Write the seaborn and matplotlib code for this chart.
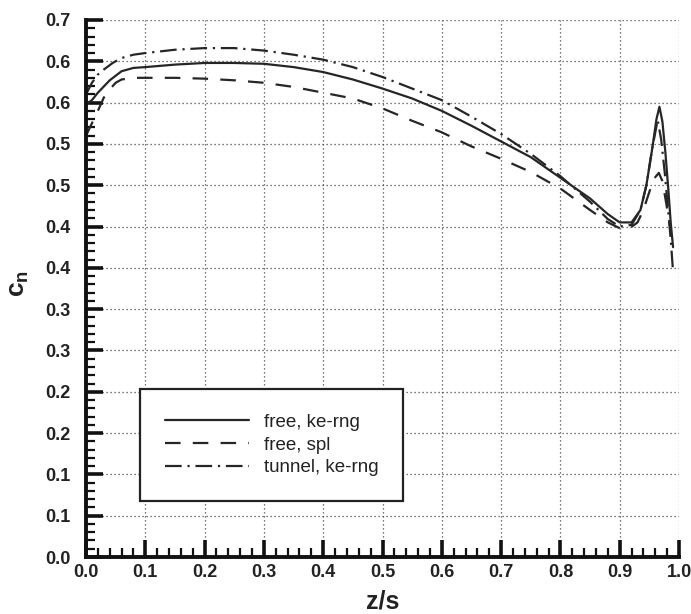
import matplotlib
matplotlib.use("Agg")
import matplotlib.pyplot as plt
import seaborn as sns
import pandas as pd
from matplotlib.ticker import MultipleLocator, FixedLocator, FixedFormatter

# Normal-force coefficient along the span
z_free = [0.0, 0.01, 0.02, 0.04, 0.06, 0.08, 0.10, 0.15, 0.20, 0.25, 0.30, 0.35,
          0.40, 0.45, 0.50, 0.55, 0.60, 0.65, 0.70, 0.75, 0.80, 0.85, 0.88, 0.90,
          0.92, 0.935, 0.945, 0.955, 0.962, 0.967, 0.972, 0.977, 0.982, 0.986, 0.99]
cn_free = [0.548, 0.553, 0.562, 0.577, 0.588, 0.592, 0.593, 0.596, 0.598, 0.598,
           0.597, 0.593, 0.587, 0.578, 0.567, 0.555, 0.540, 0.522, 0.503, 0.484,
           0.459, 0.434, 0.415, 0.405, 0.405, 0.420, 0.450, 0.495, 0.530, 0.545,
           0.527, 0.490, 0.445, 0.405, 0.375]

z_spl = [0.0, 0.01, 0.02, 0.03, 0.04, 0.05, 0.06, 0.08, 0.10, 0.15, 0.20, 0.25,
         0.30, 0.35, 0.40, 0.45, 0.50, 0.55, 0.60, 0.65, 0.70, 0.75, 0.80, 0.85,
         0.88, 0.90, 0.915, 0.93, 0.94, 0.95, 0.958, 0.966, 0.972, 0.978, 0.985]
cn_spl = [0.510, 0.525, 0.540, 0.556, 0.566, 0.574, 0.578, 0.580, 0.580, 0.580,
          0.579, 0.577, 0.574, 0.569, 0.562, 0.555, 0.543, 0.528, 0.514, 0.497,
          0.482, 0.466, 0.446, 0.420, 0.405, 0.398, 0.397, 0.405, 0.420, 0.442,
          0.458, 0.465, 0.455, 0.430, 0.400]

z_tun = [0.0, 0.01, 0.02, 0.03, 0.045, 0.06, 0.08, 0.10, 0.15, 0.20, 0.25, 0.30,
         0.35, 0.40, 0.45, 0.50, 0.55, 0.60, 0.65, 0.70, 0.75, 0.80, 0.85, 0.88,
         0.90, 0.92, 0.935, 0.945, 0.955, 0.964, 0.970, 0.976, 0.981, 0.986, 0.99]
cn_tun = [0.560, 0.574, 0.584, 0.590, 0.598, 0.604, 0.608, 0.610, 0.614, 0.616,
          0.616, 0.613, 0.608, 0.602, 0.593, 0.581, 0.567, 0.553, 0.533, 0.512,
          0.488, 0.461, 0.430, 0.409, 0.400, 0.402, 0.420, 0.450, 0.495, 0.529,
          0.505, 0.465, 0.425, 0.385, 0.345]

series_names = ["free, ke-rng", "free, spl", "tunnel, ke-rng"]

y_tick_values = [0.0, 0.05, 0.10, 0.15, 0.20, 0.25, 0.30, 0.35, 0.40, 0.45,
                 0.50, 0.55, 0.60, 0.65]
y_tick_labels = ["0.0", "0.1", "0.1", "0.2", "0.2", "0.3", "0.3", "0.4", "0.4",
                 "0.5", "0.5", "0.6", "0.6", "0.7"]
x_tick_values = [0.0, 0.1, 0.2, 0.3, 0.4, 0.5, 0.6, 0.7, 0.8, 0.9, 1.0]
x_tick_labels = ["0.0", "0.1", "0.2", "0.3", "0.4", "0.5", "0.6", "0.7", "0.8",
                 "0.9", "1.0"]

frames = []
for name, zs, cs in zip(series_names, [z_free, z_spl, z_tun], [cn_free, cn_spl, cn_tun]):
    frames.append(pd.DataFrame({"z/s": zs, "cn": cs, "case": name}))
df = pd.concat(frames, ignore_index=True)

sns.set_theme(style="white")
plt.rcParams["font.family"] = ["Liberation Sans", "DejaVu Sans"]
plt.rcParams["mathtext.fontset"] = "custom"
plt.rcParams["mathtext.rm"] = "Liberation Sans:bold"
plt.rcParams["mathtext.bf"] = "Liberation Sans:bold"
plt.rcParams["mathtext.it"] = "Liberation Sans:bold"

fig = plt.figure(figsize=(6.91, 6.14), dpi=100)
ax = fig.add_axes([86 / 691, 1 - 557 / 614, (679 - 86) / 691, (557 - 20) / 614])

ink = "#262626"
sns.lineplot(
    data=df, x="z/s", y="cn", style="case", hue="case",
    palette={n: ink for n in series_names},
    dashes={"free, ke-rng": "", "free, spl": (7, 5.5), "tunnel, ke-rng": (7.5, 2.6, 1, 2.6)},
    estimator=None, sort=False, linewidth=1.6, ax=ax, legend=True,
)

ax.set_xlim(0, 1.0)
ax.set_ylim(0, 0.65)

# dotted grid on major ticks, including the closing top/right lines
for v in x_tick_values[1:]:
    ax.axvline(v, color="#4a4a4a", lw=0.9, ls=(0, (1, 2.2)), zorder=0.5)
for v in y_tick_values[1:]:
    ax.axhline(v, color="#4a4a4a", lw=0.9, ls=(0, (1, 2.2)), zorder=0.5)

ax.xaxis.set_major_locator(FixedLocator(x_tick_values))
ax.xaxis.set_major_formatter(FixedFormatter(x_tick_labels))
ax.xaxis.set_minor_locator(MultipleLocator(0.02))
ax.yaxis.set_major_locator(FixedLocator(y_tick_values))
ax.yaxis.set_major_formatter(FixedFormatter(y_tick_labels))
ax.yaxis.set_minor_locator(MultipleLocator(0.01))

for side in ["top", "right"]:
    ax.spines[side].set_visible(False)
for side in ["left", "bottom"]:
    ax.spines[side].set_linewidth(2.8)
    ax.spines[side].set_color("#111111")

ax.tick_params(which="major", direction="in", length=12, width=2.6, color="#111111",
               labelsize=13)
ax.tick_params(axis="y", which="major", pad=11)
ax.tick_params(axis="x", which="major", pad=5)
ax.tick_params(which="minor", direction="in", length=6.5, width=1.6, color="#111111")
ax.tick_params(axis="x", which="both", top=False, bottom=True)
ax.tick_params(axis="y", which="both", left=True, right=False)
for lab in ax.get_xticklabels() + ax.get_yticklabels():
    lab.set_fontweight("bold")
    lab.set_color("#222222")

ax.set_xlabel("z/s", fontsize=18, fontweight="bold", color="#222222")
ax.set_ylabel(r"$\mathbf{c}_\mathbf{n}$", fontsize=19, color="#222222")
ax.xaxis.set_label_coords(0.5, -0.060)
ax.yaxis.set_label_coords(-0.092, 0.51)

handles, labels = ax.get_legend_handles_labels()
leg = ax.legend(handles, labels, loc="center", bbox_to_anchor=(0.313, 0.2086),
                frameon=True, fancybox=False, shadow=False, fontsize=13.5,
                handlelength=4.5, handletextpad=0.8, borderpad=1.3,
                labelspacing=0.3, borderaxespad=0)
leg.get_frame().set_edgecolor("#222222")
leg.get_frame().set_linewidth(1.6)
leg.get_frame().set_facecolor("white")
leg.get_frame().set_alpha(1.0)
for t in leg.get_texts():
    t.set_color("#222222")

fig.savefig("out.png", dpi=100, facecolor="white")
